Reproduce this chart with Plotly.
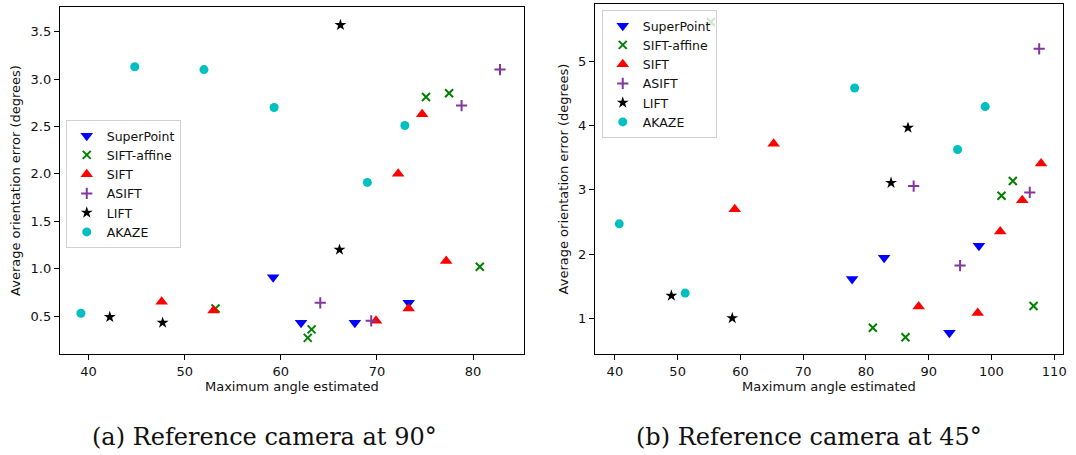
import plotly.graph_objects as go

series_names = ["SuperPoint", "SIFT-affine", "SIFT", "ASIFT", "LIFT", "AKAZE"]

# Panel (a): reference camera at 90 degrees
a_superpoint_x = [59.2, 62.1, 67.7, 73.3]
a_superpoint_y = [0.91, 0.43, 0.43, 0.64]
a_siftaff_x = [53.2, 63.2, 62.8, 80.7, 75.1, 77.5]
a_siftaff_y = [0.58, 0.36, 0.27, 1.02, 2.81, 2.85]
a_sift_x = [47.6, 53.0, 69.9, 73.3, 77.2, 74.7, 72.2]
a_sift_y = [0.65, 0.56, 0.45, 0.58, 1.08, 2.63, 2.00]
a_asift_x = [82.8, 78.8, 64.1, 69.4]
a_asift_y = [3.10, 2.72, 0.64, 0.45]
a_lift_x = [66.2, 66.1, 42.2, 47.7]
a_lift_y = [3.57, 1.20, 0.49, 0.43]
a_akaze_x = [44.8, 52.0, 59.3, 72.9, 69.0, 39.2]
a_akaze_y = [3.13, 3.10, 2.70, 2.51, 1.91, 0.53]

# Panel (b): reference camera at 45 degrees
b_superpoint_x = [77.8, 82.9, 98.0, 93.3]
b_superpoint_y = [1.61, 1.94, 2.13, 0.77]
b_siftaff_x = [81.1, 86.3, 106.7, 101.6, 103.4, 55.3]
b_siftaff_y = [0.85, 0.70, 1.19, 2.91, 3.14, 5.62]
b_sift_x = [65.3, 59.1, 88.4, 97.8, 101.4, 104.9, 107.9]
b_sift_y = [3.72, 2.70, 1.18, 1.08, 2.35, 2.84, 3.41]
b_asift_x = [107.6, 87.6, 106.1, 95.0]
b_asift_y = [5.20, 3.06, 2.96, 1.82]
b_lift_x = [86.7, 84.0, 49.0, 58.7]
b_lift_y = [3.97, 3.11, 1.35, 1.00]
b_akaze_x = [78.2, 99.0, 94.6, 40.7, 51.2]
b_akaze_y = [4.59, 4.30, 3.63, 2.47, 1.39]

captions = ["(a) Reference camera at 90°", "(b) Reference camera at 45°"]
x_title = "Maximum angle estimated"
y_title = "Average orientation error (degrees)"

colors = ["#0000ff", "#008000", "#ff0000", "#84369e", "#000000", "#00bfbf"]
symbols = ["triangle-down", "x-thin", "triangle-up", "cross-thin", "star", "circle"]
sizes = [11, 8, 11, 8, 9, 9]

panels = [
    [(a_superpoint_x, a_superpoint_y), (a_siftaff_x, a_siftaff_y), (a_sift_x, a_sift_y),
     (a_asift_x, a_asift_y), (a_lift_x, a_lift_y), (a_akaze_x, a_akaze_y)],
    [(b_superpoint_x, b_superpoint_y), (b_siftaff_x, b_siftaff_y), (b_sift_x, b_sift_y),
     (b_asift_x, b_asift_y), (b_lift_x, b_lift_y), (b_akaze_x, b_akaze_y)],
]

fig = go.Figure()
for p, data in enumerate(panels):
    xa = "x" if p == 0 else "x2"
    ya = "y" if p == 0 else "y2"
    lg = "legend" if p == 0 else "legend2"
    for i, (xs, ys) in enumerate(data):
        thin = symbols[i] in ("x-thin", "cross-thin")
        marker = dict(color=colors[i], symbol=symbols[i], size=sizes[i])
        if thin:
            marker["line"] = dict(color=colors[i], width=2)
        else:
            marker["line"] = dict(width=0)
        fig.add_trace(go.Scatter(x=xs, y=ys, mode="markers", name=series_names[i],
                                 marker=marker, xaxis=xa, yaxis=ya, legend=lg))

W, H = 1076, 455
def fx(px):
    return px / W
def fy(py):
    return 1 - py / H

axis_common = dict(showline=True, linecolor="black", linewidth=1, mirror=True,
                   ticks="outside", ticklen=5, tickcolor="black", showgrid=False,
                   zeroline=False, ticklabeloverflow="allow",
                   tickfont=dict(family="DejaVu Sans", size=13, color="#111"),
                   title_font=dict(family="DejaVu Sans", size=13, color="#111"))

legend_common = dict(bgcolor="rgba(255,255,255,0.8)", bordercolor="#d0d0d0", borderwidth=1,
                     font=dict(family="DejaVu Sans", size=12.5, color="#111"),
                     xanchor="left", yanchor="top", tracegroupgap=0)

fig.update_layout(
    width=W, height=H,
    margin=dict(l=0, r=0, t=0, b=0),
    paper_bgcolor="white", plot_bgcolor="white",
    xaxis=dict(domain=[fx(60), fx(526)], range=[37.0, 85.3], dtick=10, anchor="y",
               title=dict(text=x_title, standoff=2), **axis_common),
    yaxis=dict(domain=[fy(354), fy(7)], range=[0.10, 3.76], dtick=0.5, tickformat=".1f",
               anchor="x", title=dict(text=y_title, standoff=6), **axis_common),
    xaxis2=dict(domain=[fx(597), fx(1067)], range=[36.8, 111.4], dtick=10, anchor="y2",
                title=dict(text=x_title, standoff=2), **axis_common),
    yaxis2=dict(domain=[fy(354), fy(4)], range=[0.44, 5.90], dtick=1, anchor="x2",
                title=dict(text=y_title, standoff=6), **axis_common),
    legend=dict(x=fx(66), y=fy(120), **legend_common),
    legend2=dict(x=fx(604), y=fy(10), **legend_common),
    showlegend=True,
)

for cx, text in zip([265, 812], captions):
    fig.add_annotation(text=text, x=fx(cx), y=fy(437), xref="paper", yref="paper",
                       showarrow=False, xanchor="center", yanchor="middle",
                       font=dict(family="DejaVu Serif", size=24, color="#111"))

fig.write_html("out.html", config={"displayModeBar": False},
               post_script="document.body.style.margin='0';")
